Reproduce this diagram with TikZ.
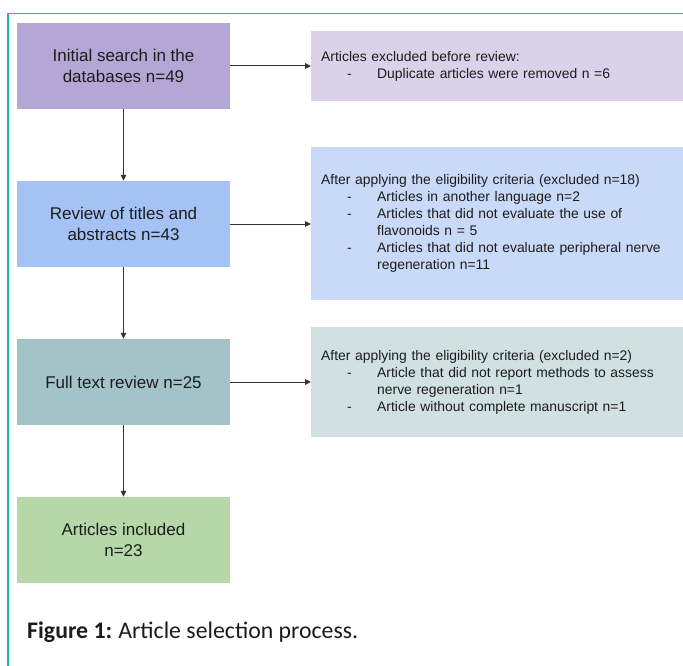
\documentclass[tikz,border=0pt]{standalone}
\usepackage{fontspec}
\setmainfont{Liberation Sans}
\newfontfamily\capfont{Carlito}
\usetikzlibrary{arrows.meta}
\definecolor{frameC}{HTML}{22B89C}
\definecolor{pA}{HTML}{B4A7D6}
\definecolor{pB}{HTML}{D9D2E9}
\definecolor{bA}{HTML}{A4C2F4}
\definecolor{bB}{HTML}{C9DAF8}
\definecolor{cA}{HTML}{A2C4C9}
\definecolor{cB}{HTML}{D0E0E3}
\definecolor{gA}{HTML}{B6D7A8}
\definecolor{txt}{HTML}{1C1C1C}
\definecolor{arr}{HTML}{333333}
\newcommand{\itm}[1]{\makebox[26pt][l]{}\makebox[30pt][l]{-}#1}
\newcommand{\cnt}[1]{\hspace*{56pt}#1}
\begin{document}
\begin{tikzpicture}[x=1pt,y=-1pt,
  stagebox/.style={draw=none, minimum width=213pt, minimum height=86pt, align=center,
    inner sep=0pt, text=txt, font=\fontsize{17}{21}\selectfont},
  notebox/.style={draw=none, anchor=west, text width=352pt, inner xsep=10pt, inner ysep=0pt,
    align=left, text=txt, font=\fontsize{13.9}{17}\selectfont},
  flow/.style={draw=arr, line width=1pt, -{Triangle[length=6pt,width=5.5pt]}}]
\useasboundingbox (0,0) rectangle (683,666);
\fill[white] (0,0) rectangle (683,666);
% frame
\draw[frameC, line width=1.5pt] (8,667) -- (8,13.5) -- (684,13.5);
% stage boxes
\node[stagebox, fill=pA] (b1) at (123.5,66) {Initial search in the\\databases n=49};
\node[stagebox, fill=bA] (b2) at (123.5,224) {Review of titles and\\abstracts n=43};
\node[stagebox, fill=cA] (b3) at (123.5,382) {Full text review n=25};
\node[stagebox, fill=gA] (b4) at (123.5,540) {Articles included\\n=23};
% note boxes
\node[notebox, fill=pB, minimum height=70pt] (r1) at (311,66)
  {Articles excluded before review:\\
   \itm{Duplicate articles were removed n =6}};
\node[notebox, fill=bB, minimum height=153pt] (r2) at (311,223.5)
  {After applying the eligibility criteria (excluded n=18)\\
   \itm{Articles in another language n=2}\\
   \itm{Articles that did not evaluate the use of}\\
   \cnt{flavonoids n = 5}\\
   \itm{Articles that did not evaluate peripheral nerve}\\
   \cnt{regeneration n=11}};
\node[notebox, fill=cB, minimum height=110pt] (r3) at (311,382)
  {After applying the eligibility criteria (excluded n=2)\\
   \itm{Article that did not report methods to assess}\\
   \cnt{nerve regeneration n=1}\\
   \itm{Article without complete manuscript n=1}};
% connectors
\draw[flow] (b1.east) -- (r1.west);
\draw[flow] (b2.east) -- (b2.east -| r2.west);
\draw[flow] (b3.east) -- (r3.west);
\draw[flow] (b1.south) -- (b2.north);
\draw[flow] (b2.south) -- (b3.north);
\draw[flow] (b3.south) -- (b4.north);
% caption
\node[anchor=base west, inner sep=0pt, text=txt, font=\capfont\fontsize{23.8}{28}\selectfont] (cap) at (27,638)
  {\textbf{Figure 1:}\hspace{-1pt} Article selection process.};
\end{tikzpicture}
\end{document}
